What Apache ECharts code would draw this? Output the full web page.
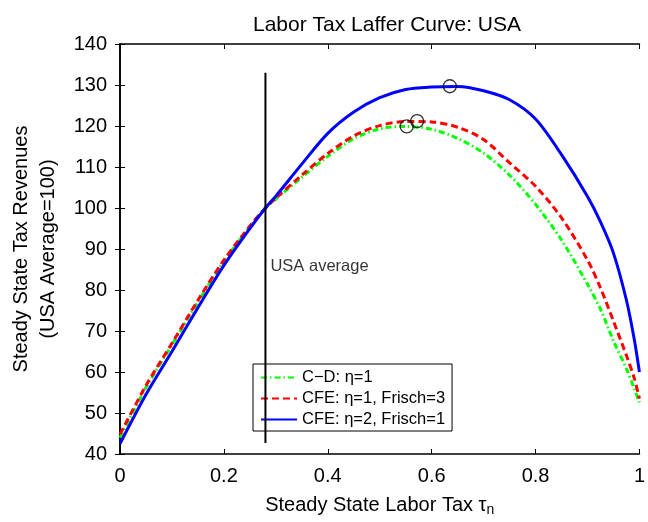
<!DOCTYPE html>
<html>
<head>
<meta charset="utf-8">
<script src="https://cdn.jsdelivr.net/npm/echarts@6/dist/echarts.min.js"></script>
<style>
  html, body { margin: 0; padding: 0; background: #fff; }
  #chart { width: 648px; height: 522px; }
</style>
</head>
<body>
<div id="chart"></div>
<script>
// Steady state labor tax rates (horizontal axis)
const taxRates = [0, 0.05, 0.10, 0.15, 0.20, 0.25, 0.28, 0.30, 0.35, 0.40, 0.45, 0.50, 0.55,
                  0.60, 0.65, 0.70, 0.75, 0.80, 0.85, 0.90, 0.925, 0.95, 0.975, 0.99, 1.0];

// Steady state tax revenues, USA average = 100
const revenueCD = [44.0, 56.2, 66.6, 77.1, 87.0, 95.4, 100, 102.2, 107.5, 112.6, 116.9, 119.3, 119.9,
                   119.2, 117.0, 113.4, 108.0, 100.9, 92.2, 81.4, 75.3, 67.6, 60.8, 55.9, 52.6];
const revenueCFE1 = [44.8, 56.7, 67.0, 77.5, 87.3, 95.6, 100, 102.4, 108.0, 113.3, 117.6, 120.1, 121.1,
                     121.0, 119.7, 116.7, 111.0, 105.3, 97.6, 87.3, 80.5, 72.4, 64.0, 58.5, 53.5];
const revenueCFE2 = [42.5, 54.5, 65.0, 75.7, 86.0, 95.0, 100, 102.9, 110.7, 118.2, 123.4, 126.9, 128.9,
                     129.5, 129.65, 128.6, 126.4, 121.7, 113.0, 102.8, 96.6, 89.0, 77.5, 68.0, 60.0];

// Revenue-maximising points (C-D, CFE Frisch=3, CFE Frisch=1)
const peakTax = [0.552, 0.572, 0.635];
const peakRevenue = [119.9, 121.2, 129.7];

// USA average labor tax marker
const usaTax = 0.28;
const usaLineSpan = [42.7, 133];
const usaLabelLevel = 85.8;

const xTickLabels = ['0', '0.2', '0.4', '0.6', '0.8', '1'];
const yTickLabels = ['40', '50', '60', '70', '80', '90', '100', '110', '120', '130', '140'];

const seriesNames = ['C\u2212D: \u03b7=1', 'CFE: \u03b7=1, Frisch=3', 'CFE: \u03b7=2, Frisch=1'];
const seriesColors = ['#00ff00', '#ff0000', '#0000ff'];
const seriesDash = [[6, 3, 1.5, 3], [7, 4], 'solid'];
const seriesValues = [revenueCD, revenueCFE1, revenueCFE2];

const FONT = 'Liberation Sans, Arial, sans-serif';

const chart = echarts.init(document.getElementById('chart'), null, { renderer: 'canvas' });

const curveSeries = seriesValues.map((vals, k) => ({
  name: seriesNames[k],
  type: 'line',
  data: taxRates.map((t, i) => [t, vals[i]]),
  symbol: 'none',
  smooth: 0.3,
  lineStyle: { color: seriesColors[k], width: 3, type: seriesDash[k], cap: 'butt' },
  itemStyle: { color: seriesColors[k] },
  z: 2 + k,
  silent: true
}));

const baseAxisLine = { show: true, lineStyle: { color: '#000', width: 1.6 } };
const baseTick = { show: true, inside: true, length: 5, lineStyle: { color: '#000', width: 1 } };

chart.setOption({
  animation: false,
  backgroundColor: '#fff',
  title: {
    text: 'Labor Tax Laffer Curve: USA',
    left: 382,
    textAlign: 'center',
    top: 10,
    textStyle: { fontFamily: FONT, fontSize: 21, fontWeight: 'normal', color: '#000' }
  },
  legend: {
    data: seriesNames,
    orient: 'vertical',
    left: 253,
    top: 364,
    backgroundColor: '#fff',
    borderColor: '#000',
    borderWidth: 1,
    borderRadius: 0,
    padding: [4, 7, 2, 7],
    itemWidth: 36,
    itemHeight: 14,
    itemGap: 2,
    itemStyle: { opacity: 0 },
    textStyle: { fontFamily: FONT, fontSize: 16.5, lineHeight: 19, color: '#000' }
  },
  grid: { left: 120, top: 44, width: 521, height: 415, containLabel: false },
  xAxis: [{
    type: 'value', min: 0, max: 1, interval: 0.2,
    name: 'Steady State Labor Tax {s|\u03c4}{sub|n}',
    nameLocation: 'middle', nameGap: 41,
    nameTextStyle: {
      fontFamily: FONT, fontSize: 20, color: '#000',
      rich: {
        s: { fontFamily: FONT, fontSize: 20, color: '#000' },
        sub: { fontFamily: FONT, fontSize: 14, color: '#000', verticalAlign: 'bottom', padding: [0, 0, -2, 0] }
      }
    },
    axisLine: baseAxisLine, axisTick: baseTick,
    axisLabel: {
      margin: 12, fontFamily: FONT, fontSize: 20, color: '#000',
      formatter: v => xTickLabels[Math.round(v / 0.2)]
    },
    splitLine: { show: false }
  }, {
    type: 'value', min: 0, max: 1, interval: 0.2, position: 'top',
    axisLine: baseAxisLine, axisTick: baseTick, axisLabel: { show: false }, splitLine: { show: false }
  }],
  yAxis: [{
    type: 'value', min: 40, max: 140, interval: 10,
    name: 'Steady State Tax Revenues\n(USA Average=100)',
    nameLocation: 'middle', nameGap: 58, nameRotate: 90,
    nameTextStyle: { fontFamily: FONT, fontSize: 20, color: '#000', lineHeight: 27, align: 'center' },
    axisLine: baseAxisLine, axisTick: baseTick,
    axisLabel: {
      margin: 13, fontFamily: FONT, fontSize: 20, color: '#000',
      formatter: v => yTickLabels[Math.round((v - 40) / 10)]
    },
    splitLine: { show: false }
  }, {
    type: 'value', min: 40, max: 140, interval: 10, position: 'right',
    axisLine: baseAxisLine, axisTick: baseTick, axisLabel: { show: false }, splitLine: { show: false }
  }],
  series: curveSeries.concat([
    {
      name: 'USA average line',
      type: 'line',
      data: usaLineSpan.map(v => [usaTax, v]),
      symbol: 'none',
      lineStyle: { color: '#000', width: 2 },
      z: 6,
      silent: true
    },
    {
      name: 'USA average label',
      type: 'scatter',
      data: [[usaTax, usaLabelLevel]],
      symbolSize: 0,
      label: {
        show: true, position: 'right', distance: 5,
        formatter: 'USA average',
        fontFamily: FONT, fontSize: 16.5, color: '#000'
      },
      z: 7,
      silent: true
    },
    {
      name: 'Peaks',
      type: 'scatter',
      data: peakTax.map((t, i) => [t, peakRevenue[i]]),
      symbol: 'circle',
      symbolSize: 13,
      itemStyle: { color: 'rgba(0,0,0,0)', borderColor: '#000', borderWidth: 1.3 },
      z: 8,
      silent: true
    }
  ])
});
</script>
</body>
</html>
